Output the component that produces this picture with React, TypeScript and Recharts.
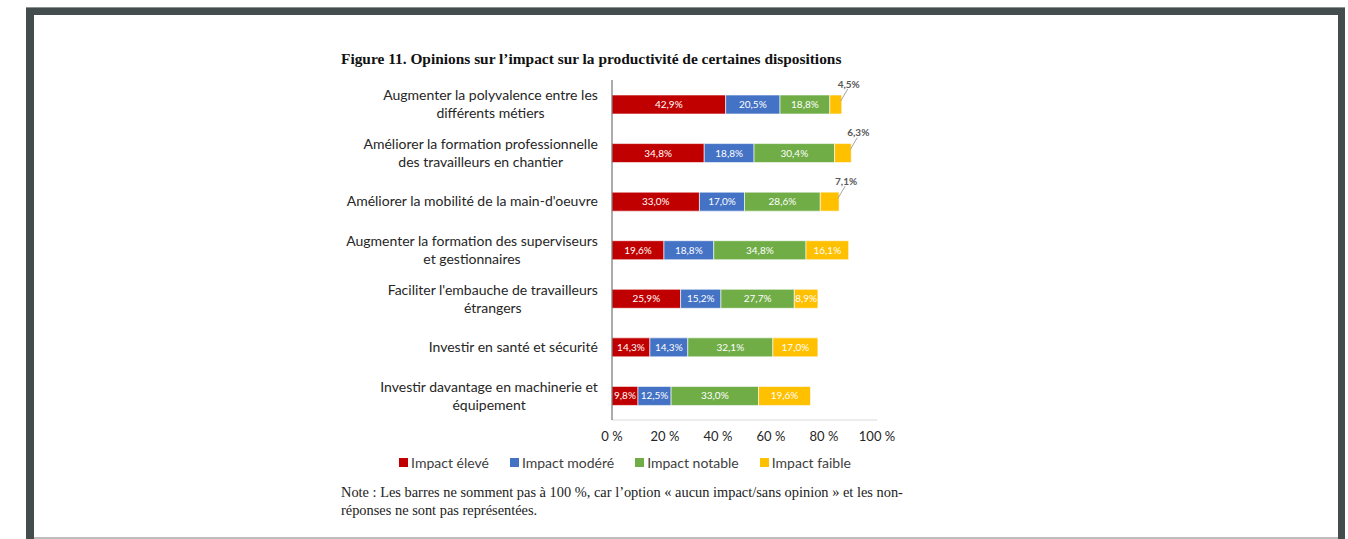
import React from 'react';
import { BarChart, Bar, XAxis, YAxis, Legend, LabelList } from 'recharts';

const categories = [
  'Augmenter la polyvalence entre les\ndifférents métiers',
  'Améliorer la formation professionnelle\ndes travailleurs en chantier',
  "Améliorer la mobilité de la main-d'oeuvre",
  'Augmenter la formation des superviseurs\net gestionnaires',
  "Faciliter l'embauche de travailleurs\nétrangers",
  'Investir en santé et sécurité',
  'Investir davantage en machinerie et\néquipement',
];

const impactEleve = [42.9, 34.8, 33.0, 19.6, 25.9, 14.3, 9.8];
const impactModere = [20.5, 18.8, 17.0, 18.8, 15.2, 14.3, 12.5];
const impactNotable = [18.8, 30.4, 28.6, 34.8, 27.7, 32.1, 33.0];
const impactFaible = [4.5, 6.3, 7.1, 16.1, 8.9, 17.0, 19.6];

const xTicks = [0, 20, 40, 60, 80, 100];

const series = [
  { key: 'eleve', name: 'Impact élevé', color: '#C00000' },
  { key: 'modere', name: 'Impact modéré', color: '#4472C4' },
  { key: 'notable', name: 'Impact notable', color: '#70AD47' },
  { key: 'faible', name: 'Impact faible', color: '#FFC000' },
];

const data = categories.map((name, i) => ({
  name,
  eleve: impactEleve[i],
  modere: impactModere[i],
  notable: impactNotable[i],
  faible: impactFaible[i],
}));

const FONT = 'Lato, "Liberation Sans", sans-serif';
const fmt = (v: any) => `${Number(v).toFixed(1).replace('.', ',')}%`;

let ctx: CanvasRenderingContext2D | null = null;
const textWidth = (s: string) => {
  if (!ctx) ctx = document.createElement('canvas').getContext('2d');
  if (!ctx) return s.length * 6.5;
  ctx.font = '14px Lato';
  return ctx.measureText(s).width;
};

// multi-line labels are centred as a block whose right edge sits near the axis
const CategoryTick = (props: any) => {
  const { x, y, payload } = props;
  const lines = String(payload.value).split('\n');
  const lh = 18;
  const start = (-(lines.length - 1) * lh) / 2;
  const w = Math.max(...lines.map(textWidth));
  const cx = -w / 2;
  return (
    <g transform={`translate(${x},${y})`}>
      {lines.map((l, i) => (
        <text
          key={i}
          x={cx}
          y={start + i * lh}
          dy={5}
          textAnchor="middle"
          fill="#262626"
          fontSize={14}
          fontFamily={FONT}
        >
          {l}
        </text>
      ))}
    </g>
  );
};

// small yellow segments get their label outside with a leader line
const FaibleLabel = (props: any) => {
  const { x, y, width, height, value } = props;
  if (value < 8) {
    const ex = x + width;
    return (
      <g>
        <line x1={ex - 1} y1={y + 6} x2={ex + 6} y2={y - 6} stroke="#a6a6a6" strokeWidth={1} />
        <text
          x={ex + 7}
          y={y - 11}
          dy={3.5}
          textAnchor="middle"
          fill="#595959"
          fontSize={10}
          fontWeight={700}
          fontFamily={FONT}
        >
          {fmt(value)}
        </text>
      </g>
    );
  }
  return (
    <text
      x={x + width / 2}
      y={y + height / 2}
      dy={3.5}
      textAnchor="middle"
      fill="#fff"
      fontSize={10}
      fontFamily={FONT}
    >
      {fmt(value)}
    </text>
  );
};

const LegendContent = () => (
  <div
    style={{
      display: 'flex',
      justifyContent: 'center',
      gap: 21,
      fontFamily: FONT,
      fontSize: 14,
      color: '#404040',
    }}
  >
    {series.map((s) => (
      <div key={s.key} style={{ display: 'flex', alignItems: 'center' }}>
        <span
          style={{ width: 9, height: 9, background: s.color, display: 'inline-block', marginRight: 3 }}
        />
        <span>{s.name}</span>
      </div>
    ))}
  </div>
);

export default function App() {
  return (
    <div
      style={{
        position: 'absolute',
        left: 0,
        top: 0,
        width: 1348,
        height: 539,
        background: '#fff',
        overflow: 'hidden',
      }}
    >
      {/* page frame */}
      <div style={{ position: 'absolute', left: 26, top: 7, width: 1319, height: 532, background: '#434d4d' }} />
      <div style={{ position: 'absolute', left: 26, top: 7, width: 1319, height: 1, background: '#8a9292' }} />
      <div style={{ position: 'absolute', left: 34, top: 15, width: 1304, height: 522, background: '#fff' }} />
      <div style={{ position: 'absolute', left: 34, top: 537, width: 1304, height: 2, background: '#bdbdbd' }} />

      <div
        style={{
          position: 'absolute',
          left: 341,
          top: 50,
          fontFamily: '"Liberation Serif", serif',
          fontWeight: 700,
          fontSize: 15.4,
          color: '#111',
          whiteSpace: 'nowrap',
        }}
      >
        Figure 11. Opinions sur l’impact sur la productivité de certaines dispositions
      </div>

      <div style={{ position: 'absolute', left: 330, top: 70 }}>
        <BarChart
          width={580}
          height={420}
          data={data}
          layout="vertical"
          barSize={19}
          margin={{ top: 10, right: 33, left: 0, bottom: 40 }}
        >
          <XAxis
            type="number"
            domain={[0, 100]}
            ticks={xTicks}
            tickFormatter={(v) => `${v} %`}
            axisLine={{ stroke: '#d9d9d9' }}
            tickLine={false}
            tickSize={0}
            tickMargin={12}
            height={30}
            tick={{ fill: '#262626', fontSize: 13, fontFamily: FONT }}
          />
          <YAxis
            type="category"
            dataKey="name"
            width={282}
            axisLine={{ stroke: '#595959' }}
            tickLine={false}
            tickSize={0}
            tickMargin={14}
            tick={<CategoryTick />}
            interval={0}
          />
          <Legend
            layout="horizontal"
            verticalAlign="middle"
            align="center"
            content={<LegendContent />}
            wrapperStyle={{ left: 5, top: 384, width: 580 }}
          />
          {series.map((s) => (
            <Bar
              key={s.key}
              dataKey={s.key}
              name={s.name}
              stackId="a"
              fill={s.color}
              stroke="#fff"
              strokeWidth={0.6}
              isAnimationActive={false}
            >
              {s.key === 'faible' ? (
                <LabelList dataKey={s.key} content={<FaibleLabel />} />
              ) : (
                <LabelList
                  dataKey={s.key}
                  position="center"
                  formatter={fmt}
                  fill="#fff"
                  fontSize={10}
                  fontFamily={FONT}
                />
              )}
            </Bar>
          ))}
        </BarChart>
      </div>

      <div
        style={{
          position: 'absolute',
          left: 341,
          top: 483,
          width: 600,
          fontFamily: '"Liberation Serif", serif',
          fontSize: 14.4,
          lineHeight: '18px',
          color: '#222',
          whiteSpace: 'nowrap',
        }}
      >
        Note : Les barres ne somment pas à 100 %, car l’option « aucun impact/sans opinion » et les non-
        <br />
        réponses ne sont pas représentées.
      </div>
    </div>
  );
}
